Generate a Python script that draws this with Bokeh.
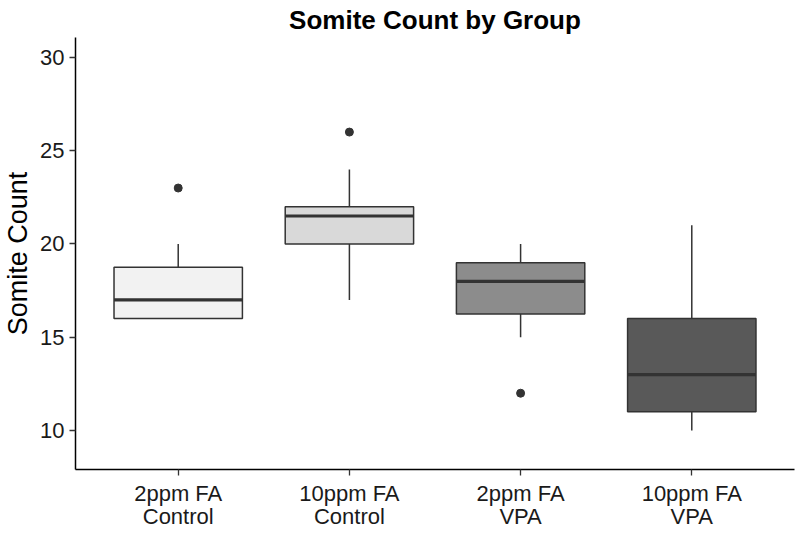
from bokeh.plotting import figure
from bokeh.models import Range1d, FactorRange, FixedTicker
from bokeh.embed import file_html
from bokeh.resources import INLINE

groups = ["2ppm FA\nControl", "10ppm FA\nControl", "2ppm FA\nVPA", "10ppm FA\nVPA"]
q1 = [16, 20, 16.25, 11]
median = [17, 21.5, 18, 13]
q3 = [18.75, 22, 19, 16]
lower = [16, 17, 15, 10]
upper = [20, 24, 20, 21]
fills = ["#F2F2F2", "#D9D9D9", "#8C8C8C", "#595959"]
outlier_groups = ["2ppm FA\nControl", "10ppm FA\nControl", "2ppm FA\nVPA"]
outlier_values = [23, 26, 12]
y_ticks = [10, 15, 20, 25, 30]

FONT = "Liberation Sans"
EDGE = "#333333"

p = figure(x_range=FactorRange(*groups, range_padding=0.05, range_padding_units="percent"),
           y_range=Range1d(7.91, 31.07),
           frame_width=719, frame_height=432,
           output_backend="svg", toolbar_location=None,
           title="Somite Count by Group",
           min_border_left=0, min_border_right=3, min_border_top=0, min_border_bottom=0)

# whiskers
p.segment(x0=groups, y0=lower, x1=groups, y1=q1, line_color=EDGE, line_width=1.5)
p.segment(x0=groups, y0=q3, x1=groups, y1=upper, line_color=EDGE, line_width=1.5)
# boxes
p.vbar(x=groups, bottom=q1, top=q3, width=0.75, fill_color=fills, line_color=EDGE, line_width=1.5)
# medians
p.vbar(x=groups, bottom=median, top=median, width=0.75, fill_alpha=0, line_color=EDGE, line_width=3.2)
# outliers
p.scatter(x=outlier_groups, y=outlier_values, size=8, color=EDGE)

p.title.text_font = FONT
p.title.text_font_size = "26px"
p.title.text_font_style = "bold"
p.title.align = "center"
p.title.text_color = "#000000"
p.title.standoff = 5

p.xgrid.visible = False
p.ygrid.visible = False
p.outline_line_color = None
p.background_fill_color = "white"

for ax in (p.xaxis[0], p.yaxis[0]):
    ax.axis_line_color = "black"
    ax.axis_line_width = 1.5
    ax.major_tick_line_color = "#333333"
    ax.major_tick_line_width = 1.3
    ax.major_tick_out = 6
    ax.major_tick_in = 0
    ax.minor_tick_line_color = None
    ax.major_label_text_font = FONT
    ax.major_label_text_font_size = "22px"
    ax.major_label_text_color = "#1a1a1a"

p.yaxis.ticker = FixedTicker(ticks=y_ticks)
p.yaxis.major_label_standoff = 5
p.yaxis.axis_label = "Somite Count"
p.yaxis.axis_label_text_font = FONT
p.yaxis.axis_label_text_font_size = "27px"
p.yaxis.axis_label_text_font_style = "normal"
p.yaxis.axis_label_text_color = "#000000"
p.yaxis.axis_label_standoff = 4
p.xaxis.major_label_standoff = 5
p.xaxis.major_label_text_line_height = 0.95

open("out.html", "w").write(file_html(p, INLINE))
